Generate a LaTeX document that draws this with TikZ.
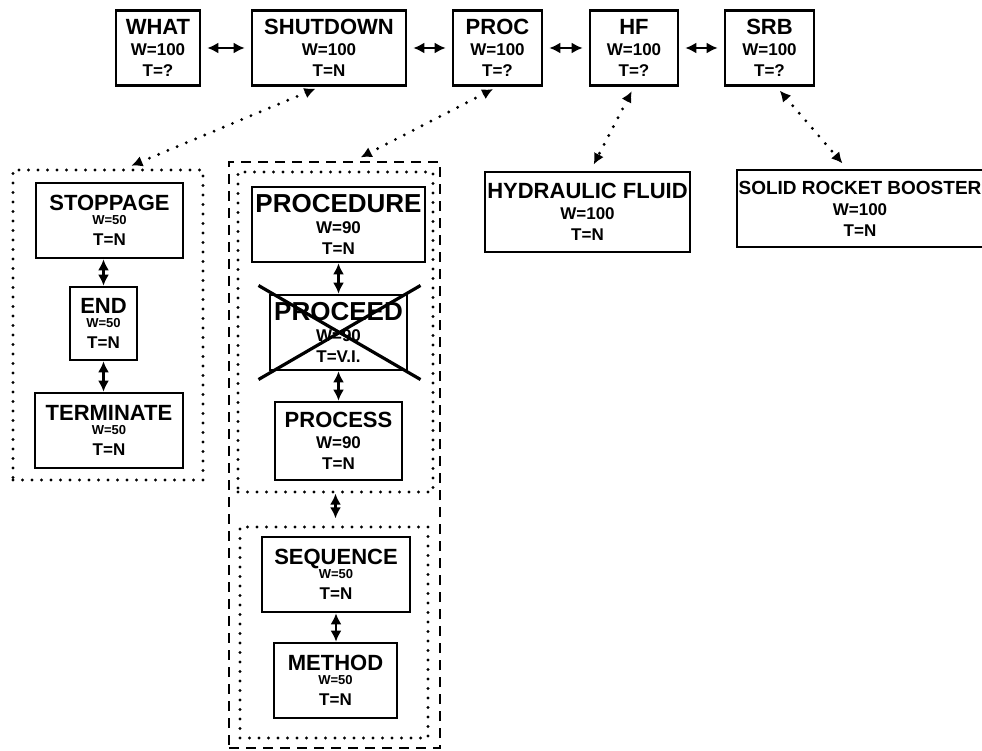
\documentclass[tikz,border=0pt]{standalone}
\usepackage{fontspec}
\setmainfont{Liberation Sans}
\usetikzlibrary{arrows.meta,positioning}
\newcommand{\ttlfont}{\fontsize{22}{24}\selectfont}
\newcommand{\bigttlfont}{\fontsize{26}{28}\selectfont}
\newcommand{\smlfont}{\fontsize{13}{15}\selectfont}
\tikzset{
  wbox/.style={draw,line width=2.6pt,inner sep=1pt,align=center,
    font=\fontsize{17}{21}\selectfont\bfseries,minimum height=75pt},
  grp_dot/.style={draw,line width=3.2pt,dash pattern=on 0pt off 9.5pt,line cap=round,
    inner sep=0pt},
  grp_dash/.style={draw,line width=2.8pt,dash pattern=on 10pt off 7pt,inner sep=0pt},
  arr/.style={{Latex[length=11pt,width=11pt]}-{Latex[length=11pt,width=11pt]},line width=2.8pt},
  arr_h/.style={arr,shorten <=6pt,shorten >=6pt},
  arr_dot/.style={arr,line width=3.2pt,dash pattern=on 0pt off 10pt,line cap=round,
    shorten <=5pt,shorten >=7pt},
  cross/.style={line width=3.2pt},
}
\begin{document}
\begin{tikzpicture}[x=1pt,y=-1pt]
  \useasboundingbox (0,0) rectangle (982,751);

  % top row
  \node[wbox,minimum width=84pt] (what) at (158,48) {{\ttlfont WHAT}\\W=100\\T=?};
  \node[wbox,minimum width=154pt] (shutdown) at (329,48) {{\ttlfont SHUTDOWN}\\W=100\\T=N};
  \node[wbox,minimum width=89pt] (proc) at (497.5,48) {{\ttlfont PROC}\\W=100\\T=?};
  \node[wbox,minimum width=88pt] (hf) at (634,48) {{\ttlfont HF}\\W=100\\T=?};
  \node[wbox,minimum width=89pt] (srb) at (769.5,48) {{\ttlfont SRB}\\W=100\\T=?};

  % shutdown group
  \node[wbox,minimum width=147pt] (stoppage) at (109.5,220.5) {{\ttlfont STOPPAGE}\\[-7pt]{\smlfont W=50}\\T=N};
  \node[wbox,minimum width=67pt,minimum height=73pt] (end) at (103.5,323.5) {{\ttlfont END}\\[-7pt]{\smlfont W=50}\\T=N};
  \node[wbox,minimum width=148pt] (terminate) at (109,430.5) {{\ttlfont TERMINATE}\\[-7pt]{\smlfont W=50}\\T=N};
  \node[grp_dot,minimum width=190pt,minimum height=310pt] (stopgrp) at (108,325) {};

  % proc group
  \node[wbox,minimum width=173pt] (procedure) at (338.5,224.5) {{\bigttlfont PROCEDURE}\\W=90\\T=N};
  \node[wbox,minimum width=137pt] (proceed) at (338.5,332.5) {{\bigttlfont PROCEED}\\W=90\\T=V.I.};
  \node[wbox,minimum width=127pt,minimum height=78pt] (process) at (338.5,441) {{\ttlfont PROCESS}\\W=90\\T=N};
  \node[wbox,minimum width=148pt] (sequence) at (336,574.5) {{\ttlfont SEQUENCE}\\[-7pt]{\smlfont W=50}\\T=N};
  \node[wbox,minimum width=123pt] (method) at (335.5,680.5) {{\ttlfont METHOD}\\[-7pt]{\smlfont W=50}\\T=N};
  \node[grp_dot,minimum width=195pt,minimum height=320pt] (procsub) at (335.5,332) {};
  \node[grp_dot,minimum width=188pt,minimum height=211pt] (seqsub) at (334,632.5) {};
  \node[grp_dash,minimum width=211pt,minimum height=586pt] (procgrp) at (334.5,455) {};

  % right side
  \node[wbox,minimum width=205pt,minimum height=80pt] (hyd) at (587.5,212) {{\ttlfont HYDRAULIC FLUID}\\W=100\\T=N};
  \node[wbox,minimum width=246pt,minimum height=77pt] (solid) at (860,208.5) {{\fontsize{19}{22}\selectfont SOLID ROCKET BOOSTER}\\W=100\\T=N};

  % crossed out
  \draw[cross] ([shift={(-80,-47)}]proceed.center) -- ([shift={(82,47)}]proceed.center);
  \draw[cross] ([shift={(-80,47)}]proceed.center) -- ([shift={(82,-47)}]proceed.center);

  \draw[arr_h] (what.east) -- (what.east -| shutdown.west);
  \draw[arr_h] (shutdown.east) -- (shutdown.east -| proc.west);
  \draw[arr_h] (proc.east) -- (proc.east -| hf.west);
  \draw[arr_h] (hf.east) -- (hf.east -| srb.west);

  \draw[arr] (end.north) -- (end.north |- stoppage.south);
  \draw[arr] (end.south) -- (end.south |- terminate.north);
  \draw[arr] (procedure.south) -- (proceed.north);
  \draw[arr] (proceed.south) -- (process.north);
  \draw[arr,shorten >=7pt] (procsub.south) -- (procsub.south |- seqsub.north);
  \draw[arr] (sequence.south) -- (sequence.south |- method.north);

  \draw[arr_dot] ([xshift=-9pt]shutdown.south) -- ([xshift=17pt]stopgrp.north);
  \draw[arr_dot] (proc.south) -- ([xshift=20pt]procgrp.north);
  \draw[arr_dot] (hf.south) -- ([xshift=3pt]hyd.north);
  \draw[arr_dot] ([xshift=7pt]srb.south) -- ([xshift=-13pt]solid.north);
\end{tikzpicture}
\end{document}
